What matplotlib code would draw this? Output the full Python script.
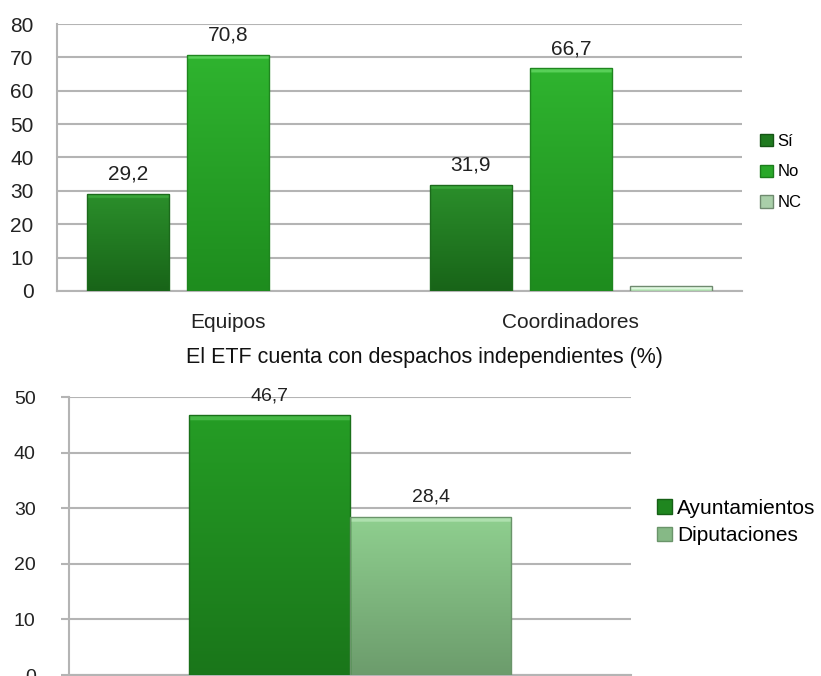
import numpy as np
import matplotlib
matplotlib.use("Agg")
import matplotlib.pyplot as plt
from matplotlib.patches import Patch
from matplotlib.colors import to_rgb
from matplotlib import font_manager as fm

# ---- data -------------------------------------------------------------
top_categories = ["Equipos", "Coordinadores"]
top_series = ["Sí", "No", "NC"]
top_si = [29.2, 31.9]
top_no = [70.8, 66.7]
top_nc = [0.0, 1.4]
top_labels_si = ["29,2", "31,9"]
top_labels_no = ["70,8", "66,7"]

bottom_title = "El ETF cuenta con despachos independientes (%)"
bottom_series = ["Ayuntamientos", "Diputaciones"]
bottom_values = [46.7, 28.4]
bottom_labels = ["46,7", "28,4"]

top_yticks = [0, 10, 20, 30, 40, 50, 60, 70, 80]
bottom_yticks = [0, 10, 20, 30, 40, 50]

# ---- fonts ------------------------------------------------------------
names = {f.name for f in fm.fontManager.ttflist}
NARROW = "Liberation Sans Narrow" if "Liberation Sans Narrow" in names else "Liberation Sans"
REG = "Liberation Sans"

W, H = 821, 676
fig = plt.figure(figsize=(W / 100, H / 100), dpi=100)
fig.patch.set_facecolor("white")

GRID = "#b4b4b4"


def px_axes(l, t, r, b):
    return fig.add_axes([l / W, 1 - b / H, (r - l) / W, (b - t) / H])


def gradient_bar(ax, patch, top, bottom, bevel, edge, ymax, ax_h_px):
    x0, y0 = patch.get_x(), patch.get_y()
    w, h = patch.get_width(), patch.get_height()
    if h <= 0:
        return
    n = 200
    t = np.linspace(0, 1, n)[:, None]
    c_top, c_bot = np.array(to_rgb(top)), np.array(to_rgb(bottom))
    img = c_top * (1 - t) + c_bot * t
    bar_px = h / ymax * ax_h_px
    band = min(5.0 / bar_px, 0.6)
    rows = int(round(band * n))
    if rows > 0:
        img[:rows] = np.array(to_rgb(bevel))
    img = img.reshape(n, 1, 3)
    img = np.repeat(img, 2, axis=1)
    im = ax.imshow(img, extent=[x0, x0 + w, y0, y0 + h], aspect="auto",
                   origin="upper", zorder=3, interpolation="bilinear")
    im.set_clip_path(patch)
    patch.set_facecolor("none")
    patch.set_edgecolor(edge)
    patch.set_linewidth(1.0)
    patch.set_zorder(4)


def style_axes(ax, ymax, yticks, ticklen, size, family, pad):
    ax.set_ylim(0, ymax)
    ax.set_yticks(yticks)
    ax.set_yticklabels([str(v) for v in yticks], fontsize=size, family=family,
                       color="#222222")
    ax.yaxis.grid(True, color=GRID, linewidth=1.5)
    ax.set_axisbelow(True)
    for s in ("top", "right"):
        ax.spines[s].set_visible(False)
    for s in ("left", "bottom"):
        ax.spines[s].set_color(GRID)
        ax.spines[s].set_linewidth(1.5)
    ax.tick_params(axis="y", length=ticklen, color=GRID, width=1.5, pad=pad)
    ax.tick_params(axis="x", length=0)


# ---- top chart ----------------------------------------------------------
ax1 = px_axes(57, 24, 742, 291)
ax1_h = 291 - 24
x = np.arange(len(top_categories))
off, bw = 0.292, 0.24
b_si = ax1.bar(x - off, top_si, bw)
b_no = ax1.bar(x, top_no, bw)
b_nc = ax1.bar(x + off, top_nc, bw)
style_axes(ax1, 80, top_yticks, 0, 15, NARROW, 17)
ax1.set_xlim(-0.5, 1.5)
ax1.set_xticks(x)
ax1.set_xticklabels(top_categories, fontsize=15, family=REG, color="#222222")
ax1.tick_params(axis="x", pad=16)

for p in b_si:
    gradient_bar(ax1, p, "#2b8f2b", "#186418", "#3aa63a", "#1c6a1c", 80, ax1_h)
for p in b_no:
    gradient_bar(ax1, p, "#2fb42f", "#1e8c1e", "#58d058", "#1f861f", 80, ax1_h)
for p in b_nc:
    gradient_bar(ax1, p, "#d2f5d2", "#b9e8b9", "#e4fbe4", "#6f8a6f", 80, ax1_h)

for p, lab in zip(b_si, top_labels_si):
    ax1.annotate(lab, (p.get_x() + p.get_width() / 2, p.get_height()),
                 xytext=(0, 7), textcoords="offset points", ha="center",
                 va="bottom", fontsize=15, family=NARROW, color="#222222")
for p, lab in zip(b_no, top_labels_no):
    ax1.annotate(lab, (p.get_x() + p.get_width() / 2, p.get_height()),
                 xytext=(0, 7), textcoords="offset points", ha="center",
                 va="bottom", fontsize=15, family=NARROW, color="#222222")

h_top = [Patch(facecolor="#1f7a1f", edgecolor="#155515"),
         Patch(facecolor="#2aa82a", edgecolor="#1d7d1d"),
         Patch(facecolor="#a9cfa9", edgecolor="#6f8a6f")]
ax1.legend(h_top, top_series, loc="center left",
           bbox_to_anchor=(760 / W, 1 - 172 / H), bbox_transform=fig.transFigure,
           frameon=False, handlelength=0.75, handleheight=0.75, handletextpad=0.3,
           labelspacing=0.95, borderaxespad=0, borderpad=0,
           prop={"family": NARROW, "size": 12})

# ---- bottom chart ------------------------------------------------------
ax2 = px_axes(69, 397, 631, 675)
ax2_h = 675 - 397
bb = ax2.bar([-0.1435, 0.1435], bottom_values, 0.287)
style_axes(ax2, 50, bottom_yticks, 6, 14, REG, 18)
ax2.set_xlim(-0.5, 0.5)
ax2.set_xticks([])
gradient_bar(ax2, bb[0], "#259d25", "#1a761a", "#45b845", "#1a701a", 50, ax2_h)
gradient_bar(ax2, bb[1], "#8fcf8f", "#6c9c6c", "#aee0ae", "#6a946a", 50, ax2_h)
for p, lab in zip(bb, bottom_labels):
    ax2.annotate(lab, (p.get_x() + p.get_width() / 2, p.get_height()),
                 xytext=(0, 8), textcoords="offset points", ha="center",
                 va="bottom", fontsize=14, family=NARROW, color="#222222")

fig.text(424 / W, 1 - 358 / H, bottom_title, ha="center", va="center",
         fontsize=15.5, family=REG, color="#111111")

h_bot = [Patch(facecolor="#1f861f", edgecolor="#166016"),
         Patch(facecolor="#86b986", edgecolor="#6a946a")]
ax2.legend(h_bot, bottom_series, loc="center left",
           bbox_to_anchor=(657 / W, 1 - 522 / H), bbox_transform=fig.transFigure,
           frameon=False, handlelength=0.7, handleheight=0.7, handletextpad=0.25,
           labelspacing=0.4, borderaxespad=0, borderpad=0,
           prop={"family": REG, "size": 15})

fig.savefig("out.png", dpi=100)
